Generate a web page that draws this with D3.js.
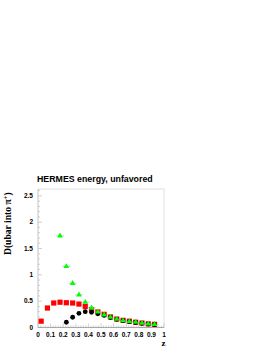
<!DOCTYPE html>
<html>
<head>
<meta charset="utf-8">
<script src="https://cdn.jsdelivr.net/npm/d3@7"></script>
<style>
  body { margin: 0; background: #fff; }
  svg { display: block; }
</style>
</head>
<body>
<svg id="chart" width="273" height="353"></svg>
<script>
// bin centres in z
var zRed = [0.025, 0.075, 0.125, 0.175, 0.225, 0.275, 0.325, 0.375, 0.425, 0.475,
            0.525, 0.575, 0.625, 0.675, 0.725, 0.775, 0.825, 0.875, 0.925];
var dRed = [0.12, 0.37, 0.465, 0.48, 0.47, 0.465, 0.445, 0.40, 0.34, 0.295,
            0.25, 0.2, 0.16, 0.135, 0.12, 0.1, 0.085, 0.07, 0.06];

var zBlack = [0.225, 0.275, 0.325, 0.375, 0.425, 0.475, 0.525, 0.575, 0.625,
              0.675, 0.725, 0.775, 0.825, 0.875, 0.925];
var dBlack = [0.10, 0.195, 0.27, 0.30, 0.29, 0.26, 0.23, 0.19, 0.155,
              0.13, 0.11, 0.095, 0.08, 0.065, 0.055];

var zGreen = [0.175, 0.225, 0.275, 0.325, 0.375, 0.425, 0.475, 0.525, 0.575,
              0.625, 0.675, 0.725, 0.775, 0.825, 0.875, 0.925];
var dGreen = [1.74, 1.16, 0.84, 0.62, 0.48, 0.375, 0.295, 0.24, 0.195,
              0.16, 0.13, 0.115, 0.1, 0.085, 0.07, 0.06];

var xTicks = [0, 0.1, 0.2, 0.3, 0.4, 0.5, 0.6, 0.7, 0.8, 0.9, 1];
var yTicks = [0, 0.5, 1, 1.5, 2, 2.5];

var pLeft = 38, pRight = 164, pTop = 189, pBottom = 327.5;

var svg = d3.select("#chart");
var x = d3.scaleLinear().domain([0, 1]).range([pLeft, pRight]);
var y = d3.scaleLinear().domain([0, 2.63]).range([pBottom, pTop]);

// frame
svg.append("rect")
    .attr("x", pLeft).attr("y", pTop)
    .attr("width", pRight - pLeft).attr("height", pBottom - pTop)
    .style("fill", "none").style("stroke", "#e4e4e4").style("stroke-width", 1.2);

// minor ticks
var xMinor = d3.range(0, 1.0001, 0.02);
svg.selectAll(".xminor").data(xMinor).enter().append("line")
    .attr("x1", x).attr("x2", x)
    .attr("y1", pBottom).attr("y2", function (d) {
        return Math.abs(d * 10 - Math.round(d * 10)) < 1e-6 ? pBottom - 4 : pBottom - 2;
    })
    .style("stroke", "#bbb").style("stroke-width", 0.7);

var yMinor = d3.range(0, 2.6001, 0.1);
svg.selectAll(".yminor").data(yMinor).enter().append("line")
    .attr("y1", y).attr("y2", y)
    .attr("x1", pLeft).attr("x2", function (d) {
        return Math.abs(d * 2 - Math.round(d * 2)) < 1e-6 ? pLeft + 4 : pLeft + 2;
    })
    .style("stroke", "#bbb").style("stroke-width", 0.7);

// axis lines
svg.append("line").attr("x1", pLeft).attr("x2", pRight).attr("y1", pBottom).attr("y2", pBottom)
    .style("stroke", "#999").style("stroke-width", 0.8);
svg.append("line").attr("x1", pLeft).attr("x2", pLeft).attr("y1", pBottom).attr("y2", pTop)
    .style("stroke", "#ccc").style("stroke-width", 0.8);

// tick labels
svg.selectAll(".xlab").data(xTicks).enter().append("text")
    .attr("x", x).attr("y", pBottom + 9)
    .attr("text-anchor", "middle")
    .style("font-family", "Liberation Sans, Arial, sans-serif")
    .style("font-weight", "bold").style("font-size", "6.5px")
    .text(function (d) { return d; });

svg.selectAll(".ylab").data(yTicks).enter().append("text")
    .attr("x", pLeft - 5).attr("y", function (d) { return y(d) + 2.3; })
    .attr("text-anchor", "end")
    .style("font-family", "Liberation Sans, Arial, sans-serif")
    .style("font-weight", "bold").style("font-size", "6.5px")
    .text(function (d) { return d; });

// title
svg.append("text")
    .attr("x", 37).attr("y", 182)
    .style("font-family", "Liberation Sans, Arial, sans-serif")
    .style("font-weight", "bold").style("font-size", "8.8px")
    .text("HERMES energy, unfavored");

// axis titles
svg.append("text")
    .attr("x", pRight - 2.5).attr("y", 345.5)
    .style("font-family", "Liberation Serif, Times New Roman, serif")
    .style("font-weight", "bold").style("font-size", "9px")
    .text("z");

var yt = svg.append("text")
    .attr("transform", "translate(11,255) rotate(-90)")
    .style("font-family", "Liberation Serif, Times New Roman, serif")
    .style("font-weight", "bold").style("font-size", "9.6px");
yt.append("tspan").text("D(ubar into \u03c0");
yt.append("tspan").attr("dy", -3.5).style("font-size", "6.5px").text("+");
yt.append("tspan").attr("dy", 3.5).text(")");

// series
var red = d3.zip(zRed, dRed);
var black = d3.zip(zBlack, dBlack);
var green = d3.zip(zGreen, dGreen);

svg.selectAll(".red").data(red).enter().append("rect")
    .attr("x", function (d) { return x(d[0]) - 2.6; })
    .attr("y", function (d) { return y(d[1]) - 2.6; })
    .attr("width", 5.2).attr("height", 5.2)
    .style("fill", "#ff0000");

svg.selectAll(".black").data(black).enter().append("circle")
    .attr("cx", function (d) { return x(d[0]); })
    .attr("cy", function (d) { return y(d[1]); })
    .attr("r", 2.4)
    .style("fill", "#000");

svg.selectAll(".gerr").data(green).enter().append("line")
    .attr("x1", function (d) { return x(d[0]) - 4; })
    .attr("x2", function (d) { return x(d[0]) + 4; })
    .attr("y1", function (d) { return y(d[1]); })
    .attr("y2", function (d) { return y(d[1]); })
    .style("stroke", "#aaa").style("stroke-width", 0.6);

var tri = d3.symbol().type(d3.symbolTriangle).size(14);
svg.selectAll(".green").data(green).enter().append("path")
    .attr("d", tri)
    .attr("transform", function (d) { return "translate(" + x(d[0]) + "," + y(d[1]) + ")"; })
    .style("fill", "#00ff00");
</script>
</body>
</html>
